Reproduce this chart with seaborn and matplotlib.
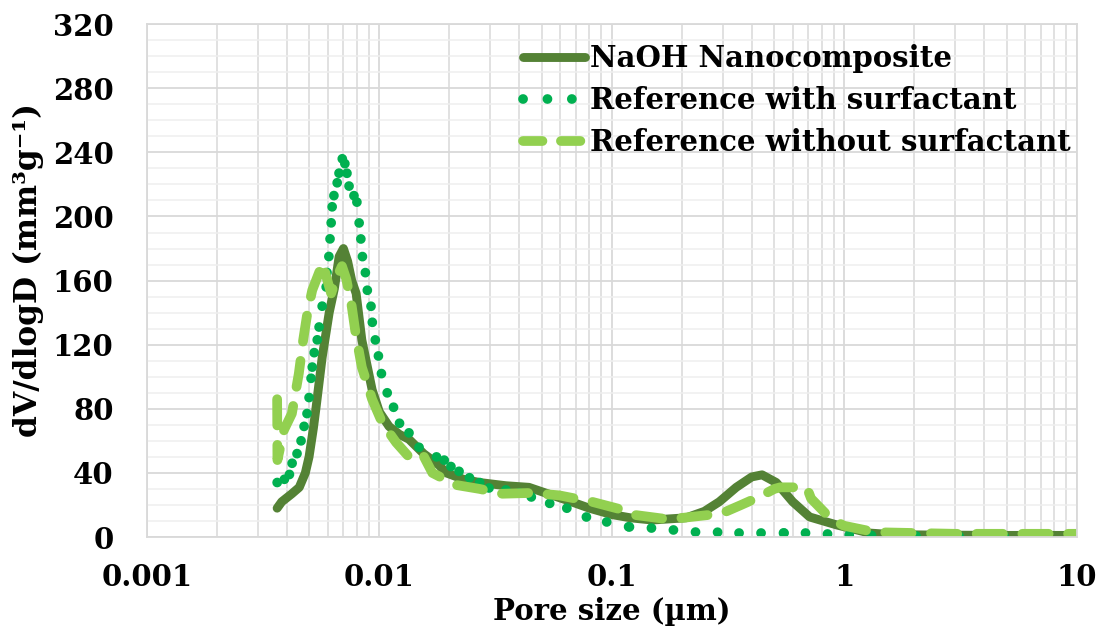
import numpy as np
import pandas as pd
import matplotlib
matplotlib.use("Agg")
import matplotlib.pyplot as plt
import matplotlib.ticker as mticker
from matplotlib.lines import Line2D
import seaborn as sns

# ---------------- data ----------------
naoh_x = [0.00363, 0.00380, 0.00420, 0.00452, 0.00480, 0.00498, 0.00520, 0.00534, 0.00567,
          0.00608, 0.00640, 0.00671, 0.00700, 0.00730, 0.00760, 0.00794, 0.00840, 0.00930,
          0.0100, 0.0110, 0.0122, 0.0134, 0.0155, 0.0180, 0.0194, 0.0230, 0.0270, 0.0350,
          0.0440, 0.0530, 0.0640, 0.0800, 0.100, 0.120, 0.149, 0.209, 0.250, 0.290, 0.343,
          0.400, 0.443, 0.510, 0.600, 0.710, 0.930, 1.28, 1.6, 2.5, 5.0, 10.0]
naoh_y = [18, 22, 27, 31, 40, 50, 68, 81, 112,
          140, 155, 175, 180, 172, 160, 152, 123, 92,
          78, 69, 64, 61, 52, 45, 40, 36, 34, 32,
          31, 27, 23, 18, 14, 12, 10.6, 12, 16, 22, 31,
          37.5, 38.8, 34, 22, 12.5, 7.5, 2.5, 1.5, 1.2, 1.0, 1.0]

with_x = [0.00363, 0.00390, 0.00410, 0.00421, 0.00442, 0.00460, 0.00474, 0.00488, 0.00498,
          0.00508, 0.00514, 0.00524, 0.00540, 0.00550, 0.00567, 0.00590, 0.00595, 0.00606,
          0.00613, 0.00620, 0.00626, 0.00637, 0.00658, 0.00670, 0.00692, 0.00710, 0.00725,
          0.00740, 0.00777, 0.00800, 0.00818, 0.00832, 0.00845, 0.00870, 0.00887, 0.00920,
          0.00932, 0.00960, 0.00990, 0.0102, 0.0108, 0.0115, 0.0122, 0.0134, 0.0148, 0.0176,
          0.0190, 0.0203, 0.0220, 0.0244, 0.0270, 0.0296, 0.0350, 0.0400, 0.0450, 0.0540,
          0.0640, 0.0777, 0.0950, 0.119, 0.148, 0.184, 0.229, 0.285, 0.354, 0.440, 0.548,
          0.681, 0.847, 1.05, 1.31, 1.63, 2.03, 2.52, 3.13, 3.90, 4.85, 6.03, 7.50, 9.33]
with_y = [34, 36, 39, 46, 52, 60, 69, 77, 87,
          99, 106, 115, 123, 131, 144, 156, 165, 175,
          186, 196, 206, 213, 221, 227, 236, 233, 227,
          219, 213, 209, 196, 186, 175, 165, 154, 144,
          134, 123, 113, 102, 90, 81, 71, 65, 56, 50,
          48, 44, 41, 37, 34, 30.6, 29.4, 27.5, 25, 21,
          18, 12.5, 9.4, 6.3, 5.6, 4.4, 3.1, 3.0, 2.5, 2.5, 2.5,
          2.5, 1.9, 1.3, 1.0, 0.9, 0.8, 0.8, 0.8, 0.8, 0.8, 0.8, 0.8, 0.8]

without_x = [0.00363, 0.00364, 0.00389, 0.00420, 0.00450, 0.00470, 0.00490, 0.00514, 0.00550,
             0.00570, 0.00600, 0.00620, 0.00650, 0.00690, 0.00720, 0.00760, 0.00790, 0.00840,
             0.00930, 0.0103, 0.0118, 0.0134, 0.0153, 0.0169, 0.0213, 0.0270, 0.0338, 0.0450,
             0.0593, 0.0820, 0.111, 0.122, 0.176, 0.270, 0.300, 0.360, 0.430, 0.500, 0.530,
             0.690, 0.720, 0.880, 1.00, 1.36, 2.0, 3.0, 10.0]
without_y = [86, 48, 67, 77, 102, 123, 140, 154, 165,
             171, 159, 152, 161, 169, 161, 144, 127, 106,
             86, 71, 59, 50, 52, 40, 32.5, 30, 27, 27.5,
             26, 22, 17, 14, 11, 14, 15, 20, 25, 30, 31,
             31, 24, 11, 7, 3, 2.5, 2, 2]

series_names = ["NaOH Nanocomposite", "Reference with surfactant", "Reference without surfactant"]
series_colors = ["#548235", "#00B050", "#92D050"]

x_ticks = [0.001, 0.01, 0.1, 1, 10]
x_tick_labels = ["0.001", "0.01", "0.1", "1", "10"]
y_ticks = [0, 40, 80, 120, 160, 200, 240, 280, 320]

# ---------------- style ----------------
sns.set_theme(style="white")
plt.rcParams["font.family"] = ["DejaVu Serif", "DejaVu Sans"]
plt.rcParams["font.weight"] = "bold"
plt.rcParams["axes.labelweight"] = "bold"
for k in ["text.color", "axes.labelcolor", "xtick.color", "ytick.color"]:
    plt.rcParams[k] = "black"

fig = plt.figure(figsize=(11.02, 6.39), dpi=100)
ax = fig.add_axes([0.1334, 0.1596, 0.8436, 0.8026])

LW_SOLID, LW_DOT, LW_DASH = 6.4, 7.0, 7.0
DOT_STYLE = (0, (0.01, 2.3))
DASH_STYLE = (0, (2.7, 2.0))

# NaOH - solid
sns.lineplot(data=pd.DataFrame({"x": naoh_x, "y": naoh_y}), x="x", y="y", ax=ax,
             color=series_colors[0], lw=LW_SOLID, sort=False, estimator=None,
             solid_capstyle="round", solid_joinstyle="round", legend=False)

# Reference with surfactant - round dots, pattern restarting on every segment
seg_rows = []
for i in range(len(with_x) - 1):
    seg_rows.append((with_x[i], with_y[i], i))
    seg_rows.append((with_x[i + 1], with_y[i + 1], i))
seg_df = pd.DataFrame(seg_rows, columns=["x", "y", "seg"])
sns.lineplot(data=seg_df, x="x", y="y", units="seg", estimator=None, ax=ax,
             color=series_colors[1], lw=LW_DOT, sort=False, linestyle=DOT_STYLE,
             dash_capstyle="round", legend=False)

# Reference without surfactant - dashed
sns.lineplot(data=pd.DataFrame({"x": without_x, "y": without_y}), x="x", y="y", ax=ax,
             color=series_colors[2], lw=LW_DASH, sort=False, estimator=None,
             linestyle=DASH_STYLE, dash_capstyle="round", legend=False)

ax.set_xscale("log")
ax.set_xlim(0.001, 10)
ax.set_ylim(0, 320)
ax.xaxis.set_major_locator(mticker.FixedLocator(x_ticks))
ax.xaxis.set_major_formatter(mticker.FixedFormatter(x_tick_labels))
ax.xaxis.set_minor_locator(mticker.LogLocator(base=10, subs=np.arange(2, 10)))
ax.xaxis.set_minor_formatter(mticker.NullFormatter())
ax.yaxis.set_major_locator(mticker.FixedLocator(y_ticks))
ax.yaxis.set_minor_locator(mticker.MultipleLocator(10))

ax.grid(which="major", color="#d9d9d9", lw=1.3)
ax.grid(which="minor", axis="x", color="#d9d9d9", lw=1.1)
ax.grid(which="minor", axis="y", color="#efefef", lw=1.1)
ax.set_axisbelow(True)
for s in ax.spines.values():
    s.set_color("#d9d9d9")
    s.set_linewidth(1.3)

ax.tick_params(which="both", length=0)
ax.tick_params(axis="x", labelsize=21, pad=19)
ax.tick_params(axis="y", labelsize=21, pad=24)
for lab in ax.get_xticklabels() + ax.get_yticklabels():
    lab.set_fontweight("bold")

ax.set_xlabel("Pore size (µm)", fontsize=21, fontweight="bold", labelpad=3)
ax.set_ylabel("dV/dlogD (mm³g⁻¹)", fontsize=22.5, fontweight="bold")
ax.yaxis.set_label_coords(-0.111, 0.52)

handles = [
    Line2D([], [], color=series_colors[0], lw=LW_SOLID, solid_capstyle="round"),
    Line2D([], [], color=series_colors[1], lw=LW_DOT, linestyle=(0, (0.01, 2.5)), dash_capstyle="round"),
    Line2D([], [], color=series_colors[2], lw=LW_DASH, linestyle=(0, (2.0, 1.9)), dash_capstyle="round"),
]
leg = ax.legend(handles, series_names, loc="upper left", bbox_to_anchor=(0.386, 0.995),
                frameon=False, fontsize=21, handlelength=2.1, handletextpad=0.2,
                labelspacing=0.45, borderaxespad=0.2)
for t in leg.get_texts():
    t.set_fontweight("bold")

fig.savefig("out.png", dpi=100)
